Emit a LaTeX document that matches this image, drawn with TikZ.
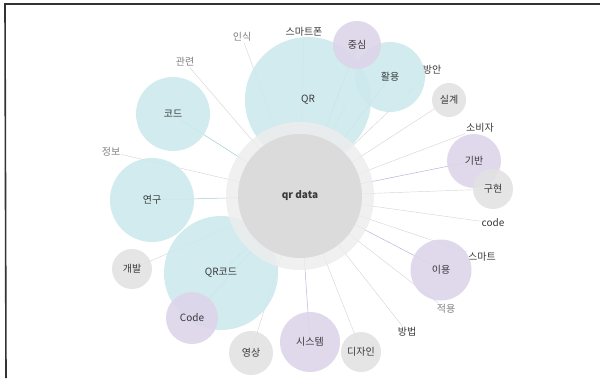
\documentclass[tikz,border=0pt]{standalone}
\usepackage{fontspec}
\setmainfont{Noto Sans CJK KR}
\definecolor{tealc}{HTML}{CDE9ED}
\definecolor{purpc}{HTML}{DDD5EA}
\definecolor{grayc}{HTML}{E2E2E2}
\definecolor{tealline}{HTML}{9FCBD0}
\definecolor{purpline}{HTML}{BDB3D8}
\definecolor{grayline}{HTML}{D6D6D6}
\definecolor{txt}{HTML}{3A3A3A}
\definecolor{ltxt}{HTML}{808080}
\tikzset{
  bub/.style={circle, inner sep=0pt, minimum size=#1, fill opacity=0.9, text opacity=1, text=txt, font=\fontsize{10}{11}\selectfont},
  tb/.style={bub=#1, fill=tealc},
  pb/.style={bub=#1, fill=purpc},
  gb/.style={bub=#1, fill=grayc},
  dark/.style={text=txt, font=\fontsize{10}{11}\selectfont, inner sep=1pt},
  light/.style={text=ltxt, font=\fontsize{10}{11}\selectfont, inner sep=1pt},
  ln/.style={draw=grayline, line width=0.45pt},
  tl/.style={draw=tealline, line width=0.5pt},
  pl/.style={draw=purpline, line width=0.5pt},
  frame/.style={draw=black!80, line width=1.6pt}
}
\begin{document}
\begin{tikzpicture}[x=1pt,y=-1pt]
\useasboundingbox (0,0) rectangle (600,378);
% frame
\coordinate (f1) at (5,4);
\coordinate (f2) at (600,4);
\coordinate (f3) at (6,378);
\draw[frame] (f2) -- (f1) -- (f3);
% center reference
\coordinate (cc) at (300,196);
% free labels
\node[light] (inshik) at (242,37) {인식};
\node[light] (gwanryeon) at (185,62) {관련};
\node[light] (jeongbo) at (111,152) {정보};
\node[dark] (smartphone) at (304,32) {스마트폰};
\node[dark] (bangan) at (432,70) {방안};
\node[dark] (sobija) at (480,128) {소비자};
\node[dark] (codel) at (493,223) {code};
\node[dark] (smart) at (482,257) {스마트};
\node[light] (jeogyong) at (446,309) {적용};
\node[dark] (bangbeop) at (407,332) {방법};
% connectors (under bubbles)
\draw[ln] (cc) -- (inshik);
\draw[ln] (cc) -- (gwanryeon);
\draw[ln] (cc) -- (jeongbo);
\draw[ln] (cc) -- (smartphone);
\draw[ln] (cc) -- (bangan);
\draw[ln] (cc) -- (sobija);
\draw[ln] (cc) -- (codel);
\draw[ln] (cc) -- (smart);
\draw[ln] (cc) -- (jeogyong);
\draw[ln] (cc) -- (bangbeop);
\draw[ln] (cc) -- (348,100);
\draw[ln] (cc) -- (448,100);
\draw[ln] (cc) -- (493,189);
\draw[ln] (cc) -- (132,269);
\draw[ln] (cc) -- (251,352);
\draw[ln] (cc) -- (361,350);
\draw[tl] (cc) -- (173,115);
\draw[tl] (cc) -- (152,200);
\draw[tl] (cc) -- (221,273);
\draw[tl] (cc) -- (390,77);
\draw[pl] (cc) -- (357,45);
\draw[pl] (cc) -- (474,161);
\draw[pl] (cc) -- (442,270);
\draw[pl] (cc) -- (310,342);
\draw[pl] (cc) -- (192,318);
% bubbles
\node[tb=126pt] (qr) at (308,100) {QR};
\node[tb=70pt] (hwalyong) at (390,77) {활용};
\node[pb=48pt] (jungsim) at (357,45) {중심};
\node[gb=34pt] (silgye) at (449,100) {실계};
\node[tb=74pt] (kode) at (173,114) {코드};
\node[tb=84pt] (yeongu) at (152,200) {연구};
\node[tb=114pt] (qrkode) at (221,273) {QR코드};
\node[gb=40pt] (gaebal) at (132,269) {개발};
\node[pb=52pt] (codeb) at (192,318) {Code};
\node[gb=44pt] (yeongsang) at (251,353) {영상};
\node[pb=60pt] (system) at (310,342) {시스템};
\node[gb=40pt] (design) at (361,352) {디자인};
\node[pb=61pt] (iyong) at (441,270) {이용};
\node[pb=54pt] (giban) at (474,161) {기반};
\node[gb=40pt] (guhyeon) at (493,189) {구현};
% center
\node[circle, inner sep=0pt, minimum size=148pt, fill=black!7, fill opacity=0.85] (ring) at (cc) {};
\node[circle, inner sep=0pt, minimum size=124pt, fill=black!14, text=txt, font=\fontsize{10}{11}\selectfont\bfseries] (center) at (cc) {qr data};
\end{tikzpicture}
\end{document}
